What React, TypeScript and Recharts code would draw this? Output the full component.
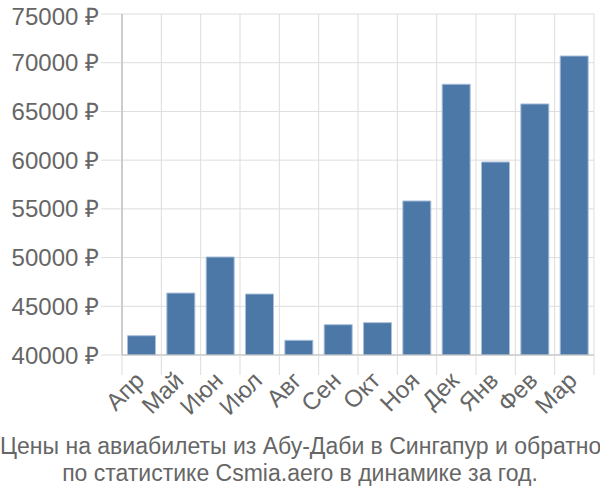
import React from 'react';
import { BarChart, Bar, XAxis, YAxis, CartesianGrid } from 'recharts';

const months = ['Апр', 'Май', 'Июн', 'Июл', 'Авг', 'Сен', 'Окт', 'Ноя', 'Дек', 'Янв', 'Фев', 'Мар'];
const prices = [41980, 46360, 50060, 46260, 41510, 43110, 43320, 55810, 67790, 59810, 65770, 70690];
const yTicks = [40000, 45000, 50000, 55000, 60000, 65000, 70000, 75000];
const titleLines = [
    'Цены на авиабилеты из Абу-Даби в Сингапур и обратно',
    'по статистике Csmia.aero в динамике за год.',
];

const data = months.map((m, i) => ({ month: m, price: prices[i] }));

const FONT = '"Liberation Sans", Arial, sans-serif';
const LEFT = 122;
const RIGHT = 6;
const PLOT_W = 600 - LEFT - RIGHT;
const BAND = PLOT_W / months.length;

const MonthTick = (props: any) => {
    const { x, y, index } = props;
    const left = x - BAND / 2;
    const ax = x + 4;
    const ay = y + 27;
    return (
        <g>
            <line x1={left} y1={y} x2={left} y2={y + 20} stroke="#ddd" />
            {index === months.length - 1 && (
                <line x1={x + BAND / 2} y1={y} x2={x + BAND / 2} y2={y + 20} stroke="#ddd" />
            )}
            <text
                x={ax}
                y={ay}
                transform={`rotate(-45, ${ax}, ${ay})`}
                textAnchor="end"
                fill="#666"
                fontSize={24}
                fontFamily={FONT}
            >
                {props.payload.value}
            </text>
        </g>
    );
};

const App: React.FC = () => {
    return (
        <div style={{ position: 'absolute', left: 0, top: 0, width: 600, height: 500, background: '#fff' }}>
            <BarChart
                width={600}
                height={430}
                data={data}
                margin={{ top: 14, right: RIGHT, left: 0, bottom: 0 }}
                barCategoryGap="14%"
            >
                <CartesianGrid
                    stroke="#ddd"
                    verticalCoordinatesGenerator={({ offset }: any) =>
                        months.map((_, i) => offset.left + ((i + 1) * offset.width) / months.length)
                    }
                />
                <XAxis
                    dataKey="month"
                    interval={0}
                    height={75}
                    tickLine={false}
                    tickSize={0}
                    tickMargin={0}
                    stroke="#bbb"
                    tick={<MonthTick />}
                />
                <YAxis
                    width={LEFT}
                    domain={[40000, 75000]}
                    ticks={yTicks}
                    tickFormatter={(v: number) => `${v} ₽`}
                    tickSize={21}
                    tickMargin={2}
                    tickLine={{ stroke: '#ddd' }}
                    axisLine={{ stroke: '#999' }}
                    tick={{ fill: '#666', fontSize: 24, fontFamily: FONT }}
                    allowDataOverflow
                />
                <Bar dataKey="price" fill="#4c78a8" stroke="#a9c0da" strokeWidth={1} isAnimationActive={false} />
            </BarChart>
            <div
                style={{
                    position: 'absolute',
                    top: 433,
                    left: 0,
                    width: 600,
                    textAlign: 'center',
                    fontFamily: FONT,
                    fontSize: 23,
                    lineHeight: '27px',
                    color: '#666',
                    whiteSpace: 'nowrap',
                }}
            >
                {titleLines.map((t) => (
                    <div key={t}>{t}</div>
                ))}
            </div>
        </div>
    );
};

export default App;
